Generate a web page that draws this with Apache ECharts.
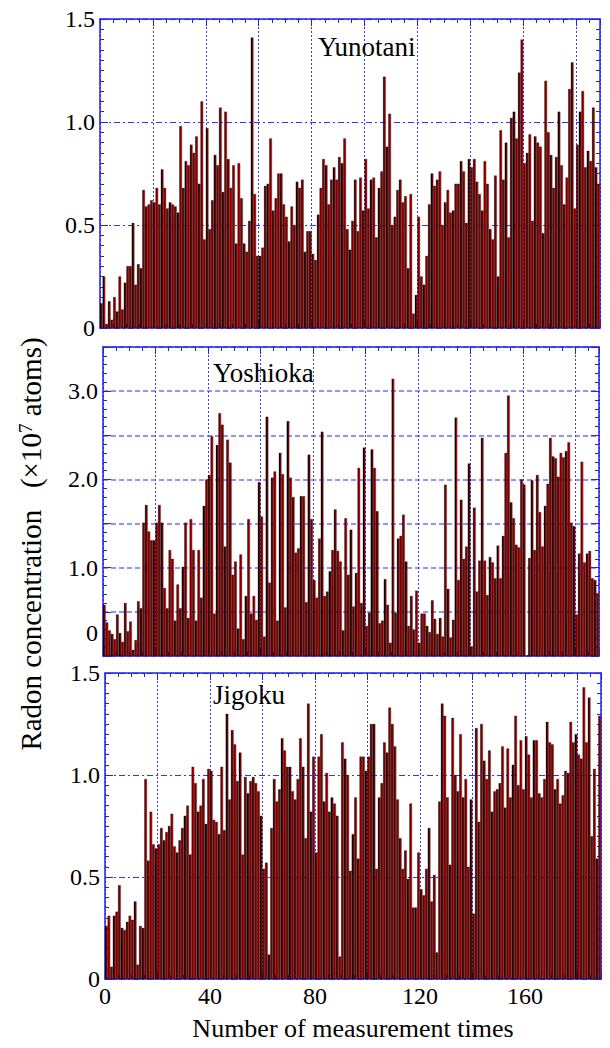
<!DOCTYPE html>
<html>
<head>
<meta charset="utf-8">
<script src="https://cdn.jsdelivr.net/npm/echarts@6/dist/echarts.min.js"></script>
<style>
  html, body { margin: 0; padding: 0; background: #fff; }
  #main { width: 610px; height: 1048px; }
</style>
</head>
<body>
<div id="main"></div>
<script>
// radon concentration (x10^7 atoms), one value per measurement
var yunotaniRadon = [
  0.12, 0.25, 0.02, 0.13, 0.04, 0.15, 0.08, 0.25, 0.09, 0.22,
  0.30, 0.30, 0.51, 0.21, 0.31, 0.29, 0.67, 0.59, 0.60, 0.62,
  0.61, 0.68, 0.60, 0.77, 0.68, 0.58, 0.61, 0.60, 0.59, 0.56,
  0.98, 0.68, 0.81, 0.79, 0.89, 0.85, 0.93, 0.70, 1.10, 0.43,
  0.97, 0.48, 0.62, 0.84, 0.79, 1.07, 0.66, 1.05, 0.82, 0.68,
  0.79, 0.41, 0.80, 0.63, 0.41, 0.37, 0.52, 1.41, 0.65, 0.35,
  0.35, 0.39, 0.69, 0.70, 0.92, 0.57, 0.63, 0.75, 0.75, 0.60,
  0.54, 0.42, 0.59, 0.50, 0.71, 0.68, 0.72, 0.37, 0.47, 0.47,
  0.36, 0.33, 0.55, 0.68, 0.82, 0.79, 0.60, 0.72, 0.78, 0.72,
  0.83, 0.80, 0.92, 0.48, 0.38, 0.52,
  0.72, 0.47, 0.73, 0.57, 0.82, 0.58, 0.72, 0.73, 0.44, 0.68,
  0.76, 1.22, 0.88, 1.04, 0.50, 0.54, 0.67, 0.72, 0.61, 0.64,
  0.29, 0.65, 0.07, 0.16, 0.54, 0.25, 0.21, 0.35, 0.60, 0.75,
  0.69, 0.72, 0.76, 0.50, 0.61, 0.67, 0.56, 0.57, 0.70, 0.70,
  0.81, 0.76, 0.51, 0.82, 0.78, 0.82, 0.71, 0.65, 0.57, 0.81,
  0.70, 0.48, 0.43, 0.74, 0.25, 0.96, 0.72, 0.90, 0.44, 1.02,
  1.05, 0.92, 1.24, 1.40, 0.80, 0.85, 0.94, 0.52, 0.93, 0.90,
  0.88, 0.46, 1.20, 0.95, 0.84, 0.68, 0.83, 1.05, 0.79, 0.60,
  0.73, 1.16, 1.29, 0.58, 0.89, 1.05, 1.15, 0.78, 0.86, 0.81,
  1.07, 0.78, 0.70
];
var yoshiokaRadon = [
  0.58, 0.38, 0.29, 0.25, 0.19, 0.47, 0.26, 0.16, 0.60, 0.28,
  0.39, 0.07, 0.18, 0.62, 0.54, 1.51, 1.71, 1.41, 1.31, 1.31,
  1.51, 1.71, 1.51, 0.77, 0.54, 1.20, 1.10, 0.40, 0.81, 0.54,
  1.01, 1.51, 0.43, 1.55, 1.20, 0.40, 1.20, 0.66, 1.70, 2.00,
  2.05, 2.49, 0.48, 2.39, 2.75, 2.62, 1.24, 2.45, 2.19, 0.92,
  1.07, 0.31, 1.15, 0.19, 0.68, 1.55, 0.48, 0.68, 0.41, 1.97,
  1.58, 0.22, 2.71, 0.83, 2.02, 2.09, 0.40, 2.30, 2.06, 0.55,
  2.66, 2.02, 1.80, 1.17, 1.22, 1.81, 1.81, 0.61, 2.28, 1.55,
  0.86, 0.66, 1.33, 2.54, 0.68, 0.73, 0.96, 1.20, 1.66, 1.19,
  1.07, 0.29, 1.56, 0.92, 1.43, 0.56, 0.94, 2.13, 0.60, 2.36,
  0.34, 0.49, 2.34, 2.13, 1.64, 0.37, 0.40, 0.87, 0.58, 0.15,
  3.14, 0.49, 1.33, 1.36, 1.60, 1.07, 0.34, 0.68, 0.30, 0.74,
  0.15, 0.48, 0.48, 0.34, 0.27, 0.63, 0.42, 0.25, 0.43, 0.22,
  1.94, 0.76, 0.21, 0.41, 2.70, 0.86, 1.77, 1.10, 1.24, 2.18,
  0.11, 1.68, 0.73, 1.08, 2.47, 1.08, 0.69, 1.12, 1.06, 0.88,
  1.25, 0.88, 1.36, 2.30, 2.95, 1.74, 1.56, 1.26, 1.23,
  2.00, 1.94, 0.00, 1.11, 1.99, 1.20, 2.05, 1.63, 1.24, 1.70,
  1.95, 2.47, 2.26, 2.24, 2.03, 2.30, 2.25, 2.32, 2.42, 1.51,
  1.47, 0.47, 1.16, 2.20, 1.06, 1.16, 1.19, 0.88, 0.86, 0.71
];
var jigokuRadon = [
  0.26, 0.31, 0.06, 0.31, 0.33, 0.46, 0.25, 0.24, 0.28, 0.31,
  0.29, 0.38, 0.07, 0.26, 0.25, 0.98, 0.58, 0.82, 0.66, 0.64,
  0.66, 0.74, 0.68, 0.72, 0.75, 0.81, 0.65, 0.62, 0.68, 0.74,
  0.80, 0.85, 0.61, 1.04, 0.96, 0.82, 0.85, 0.98, 0.76, 1.03,
  1.02, 0.78, 0.77, 0.71, 1.04, 0.73, 1.30, 0.88, 1.22, 1.15,
  0.97, 1.11, 0.61, 0.99, 0.91, 0.97, 0.99, 0.96, 0.92, 0.80,
  0.54, 0.57, 0.12, 0.74, 0.98, 0.87, 0.93, 1.18, 1.12, 1.04,
  1.04, 0.92, 0.88, 0.98, 1.18, 1.04, 0.69, 1.35, 0.82, 1.09,
  0.62, 1.09, 1.20, 0.87, 1.01, 0.82, 0.89, 0.86, 0.80, 0.11,
  1.16, 1.08, 1.00, 0.53, 0.71, 0.89, 0.59, 1.09, 1.09, 1.02,
  1.09, 1.25, 1.25, 0.54, 0.89, 0.96, 1.16, 1.11, 1.33,
  1.25, 1.14, 0.88, 0.69, 0.54, 0.63, 0.49, 0.86, 0.35, 0.35,
  0.62, 0.44, 0.41, 0.54, 0.74, 0.38, 0.51, 0.13, 0.87, 1.35,
  1.29, 0.89, 0.56, 1.28, 1.00, 0.92, 1.20, 0.89, 0.98, 0.55,
  0.88, 0.32, 1.23, 0.77, 1.25, 1.07, 0.98, 1.12, 0.82, 0.92,
  0.93, 0.96, 1.14, 0.84, 1.13, 0.89, 1.05, 1.29, 0.95, 1.17,
  0.93, 1.19, 1.10, 0.89, 1.17, 1.17, 0.91, 0.89, 0.98, 1.26,
  1.16, 1.15, 0.93, 0.98, 0.86, 0.90, 1.02, 1.01, 1.26, 1.16,
  1.20, 1.10, 1.08, 1.43, 1.16, 1.38, 0.70, 1.03, 0.59, 1.29
];

var siteNames = ['Yunotani', 'Yoshioka', 'Jigoku'];
var siteData = [yunotaniRadon, yoshiokaRadon, jigokuRadon];
var yMax = [1.5, 3.5, 1.5];
var yLabelStep = [0.5, 1.0, 0.5];
var yMinorSplit = [10, 5, 10];
var xMax = 189;
var xLabelStep = 40;

var FONT = '"Liberation Serif", "DejaVu Serif", serif';
var BLUE = '#2222ee';

var grids = [
  { left: 100, right: 10, top: 19, height: 309 },
  { left: 103, right: 11, top: 347, height: 309 },
  { left: 105, right: 9, top: 673, height: 306 }
];
var titlePos = [
  { left: 318, top: 33 },
  { left: 213, top: 359 },
  { left: 213, top: 681 }
];

var barColor = new echarts.graphic.LinearGradient(0, 0, 1, 0, [
  { offset: 0, color: '#0a0000' },
  { offset: 0.3, color: '#0a0000' },
  { offset: 0.3, color: '#780000' },
  { offset: 0.72, color: '#780000' },
  { offset: 0.72, color: '#e00000' },
  { offset: 1, color: '#e00000' }
]);

var xAxes = [], yAxes = [], series = [], titles = [];

siteNames.forEach(function (name, i) {
  var hLine = i === 1
    ? { color: '#7070ff', width: 1.5, type: [5, 3] }
    : { color: '#3333ff', width: 1, type: [6, 3, 2, 3] };

  xAxes.push({
    type: 'value', gridIndex: i, min: 0, max: xMax, interval: 20,
    axisLine: { onZero: false, lineStyle: { color: BLUE, width: 1.5 } },
    axisTick: { inside: true, length: 7, lineStyle: { color: BLUE } },
    minorTick: { show: true, splitNumber: 4, length: 4, lineStyle: { color: BLUE } },
    axisLabel: {
      show: i === 2, color: '#000', fontFamily: FONT, fontSize: 24, margin: 5,
      formatter: function (v) { return (v % xLabelStep === 0 && v < xMax) ? String(v) : ''; }
    },
    splitLine: { show: true, lineStyle: { color: '#3838ff', width: 1, type: [2, 2] } },
    name: i === 2 ? 'Number of measurement times' : '',
    nameLocation: 'middle', nameGap: 36,
    nameTextStyle: { color: '#000', fontFamily: FONT, fontSize: 26 }
  });
  xAxes.push({
    type: 'value', gridIndex: i, position: 'top', min: 0, max: xMax, interval: 20,
    axisLine: { onZero: false, lineStyle: { color: BLUE, width: 1.5 } },
    axisTick: { inside: true, length: 7, lineStyle: { color: BLUE } },
    minorTick: { show: true, splitNumber: 4, length: 4, lineStyle: { color: BLUE } },
    axisLabel: { show: false },
    splitLine: { show: false }
  });

  var step = yLabelStep[i];
  var liftZero = i === 1;
  yAxes.push({
    type: 'value', gridIndex: i, min: 0, max: yMax[i], interval: 0.5,
    axisLine: { show: true, onZero: false, lineStyle: { color: BLUE, width: 1.5 } },
    axisTick: { show: true, inside: true, length: 8, lineStyle: { color: BLUE } },
    minorTick: { show: true, splitNumber: yMinorSplit[i], length: 4, lineStyle: { color: BLUE } },
    axisLabel: {
      color: '#000', fontFamily: FONT, fontSize: 24, margin: 5,
      formatter: function (v) {
        if (Math.abs(v / step - Math.round(v / step)) > 1e-6) return '';
        if (v === 0) return liftZero ? '{z|0}' : '0';
        return v.toFixed(1);
      },
      rich: {
        z: { color: '#000', fontFamily: FONT, fontSize: 24, padding: [0, 0, 46, 0] }
      }
    },
    splitLine: { show: true, lineStyle: hLine }
  });
  yAxes.push({
    type: 'value', gridIndex: i, position: 'right', min: 0, max: yMax[i], interval: 0.5,
    axisLine: { show: true, onZero: false, lineStyle: { color: BLUE, width: 1.5 } },
    axisTick: { show: true, inside: true, length: 8, lineStyle: { color: BLUE } },
    minorTick: { show: true, splitNumber: yMinorSplit[i], length: 4, lineStyle: { color: BLUE } },
    axisLabel: { show: false },
    splitLine: { show: false }
  });

  series.push({
    type: 'bar', name: name,
    xAxisIndex: 2 * i, yAxisIndex: 2 * i,
    barWidth: 2.6,
    itemStyle: { color: barColor, borderColor: '#000', borderWidth: 0.3 },
    data: siteData[i].map(function (v, k) { return [k + 0.5, v]; }),
    animation: false
  });

  titles.push({
    text: name, left: titlePos[i].left, top: titlePos[i].top, padding: 0,
    textStyle: { color: '#000', fontFamily: FONT, fontSize: 27, fontWeight: 'normal' }
  });
});

var chart = echarts.init(document.getElementById('main'), null, { renderer: 'svg' });
chart.setOption({
  backgroundColor: '#fff',
  animation: false,
  title: titles,
  grid: grids,
  xAxis: xAxes,
  yAxis: yAxes,
  series: series,
  graphic: [{
    type: 'text', x: 31, y: 544, rotation: Math.PI / 2,
    style: {
      text: '{a|Radon concentration   (\u00d710}{s|7}{a| atoms)}',
      align: 'center', verticalAlign: 'middle',
      rich: {
        a: { fill: '#000', fontFamily: FONT, fontSize: 29 },
        s: { fill: '#000', fontFamily: FONT, fontSize: 19, verticalAlign: 'top', padding: [0, 0, 11, 0] }
      }
    }
  }]
});
</script>
</body>
</html>
